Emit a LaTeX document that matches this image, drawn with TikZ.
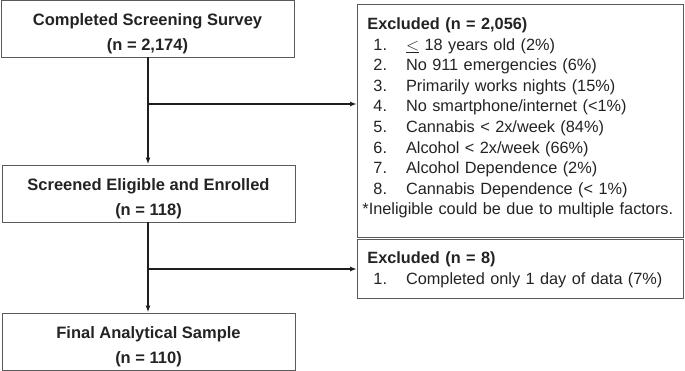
\documentclass[tikz,border=0pt]{standalone}
\usepackage{fontspec}
\setmainfont{Liberation Sans}
\usepackage{tikz}
\usetikzlibrary{positioning,arrows.meta}

\begin{document}
\begin{tikzpicture}[x=1pt,y=-1pt]
      % colours
      \definecolor{boxline}{RGB}{90,90,90}
      \definecolor{arrowline}{RGB}{30,30,30}
      \definecolor{textcolor}{RGB}{35,35,35}

      % styles
      \tikzstyle{mainbox} = [rectangle, draw=boxline, line width=0.9pt, minimum width=293pt, minimum height=57pt, inner sep=0pt, align=center, text=textcolor, font=\fontsize{16.5}{25}\selectfont\bfseries]
      \tikzstyle{exbox} = [rectangle, draw=boxline, line width=0.9pt, text width=326pt, anchor=north west, inner sep=0pt, text=textcolor, font=\fontsize{16.3}{20.6}\selectfont]
      \tikzstyle{flow} = [-{Latex[length=7pt,width=5pt]}, line width=1.6pt, arrowline]

      \useasboundingbox (0,0) rectangle (685,371);

      % left column
      \node[mainbox] (survey) at (147.5,28.5) {\rule{0pt}{22pt}Completed Screening Survey\\(n = 2,174)};
      \node[mainbox] (eligible) at (148.5,193.5) {\rule{0pt}{22pt}Screened Eligible and Enrolled\\(n = 118)};
      \node[mainbox] (final) at (148.5,341.5) {\rule{0pt}{22pt}Final Analytical Sample\\(n = 110)};

      % right column
      \node[exbox, minimum height=233pt] (excl1) at (357,4) {%
        \begin{tabular}{@{\hspace{5pt}}r@{\hspace{19pt}}l@{}}
          \multicolumn{2}{@{\hspace{10pt}}l@{}}{\bfseries Excluded (n = 2,056)}\\
          \hspace{11pt}1. & $\underline{<}$ 18 years old (2\%)\\
          2. & No 911 emergencies (6\%)\\
          3. & Primarily works nights (15\%)\\
          4. & No smartphone/internet (<1\%)\\
          5. & Cannabis < 2x/week (84\%)\\
          6. & Alcohol < 2x/week (66\%)\\
          7. & Alcohol Dependence (2\%)\\
          8. & Cannabis Dependence (< 1\%)\\
          \multicolumn{2}{@{\hspace{5pt}}l@{}}{*Ineligible could be due to multiple factors.\rule[-12pt]{0pt}{12pt}}
        \end{tabular}};
      \node[exbox, minimum height=58pt] (excl2) at (357,239.5) {%
        \begin{tabular}{@{\hspace{5pt}}r@{\hspace{19pt}}l@{}}
          \multicolumn{2}{@{\hspace{10pt}}l@{}}{\bfseries Excluded (n = 8)\rule{0pt}{16pt}}\\
          \hspace{11pt}1. & Completed only 1 day of data (7\%)
        \end{tabular}};

      % branch points
      \coordinate (split1) at (148,104);
      \coordinate (split2) at (148,269);

      % arrows
      \draw[flow] (survey.south -| split1) -- (eligible.north -| split1);
      \draw[flow] (split1) -- (split1 -| excl1.west);
      \draw[flow] (eligible.south -| split2) -- (final.north -| split2);
      \draw[flow] (split2) -- (split2 -| excl2.west);
\end{tikzpicture}
\end{document}
